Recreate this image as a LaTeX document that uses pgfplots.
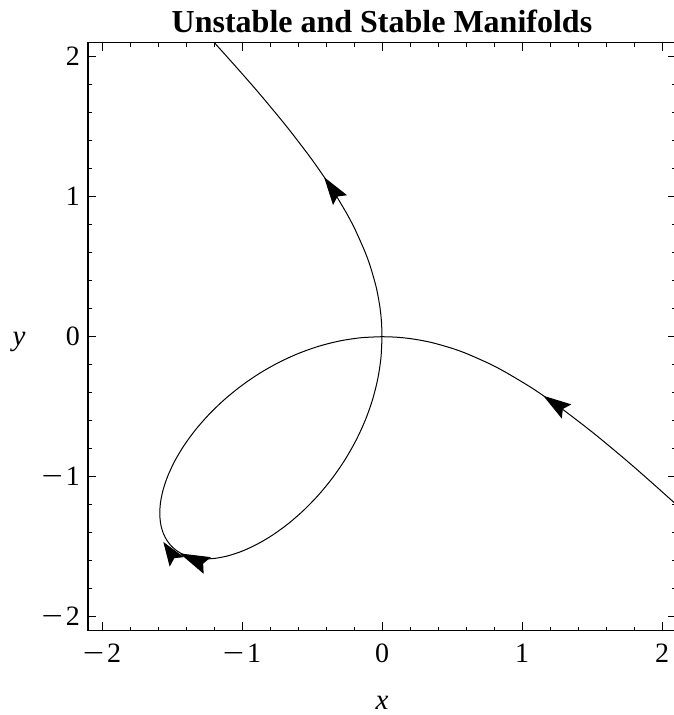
\documentclass[border=0pt]{standalone}
\usepackage{fontspec}
\setmainfont{Liberation Serif}
\usepackage{graphicx}
\usepackage{pgfplots}
\pgfplotsset{compat=1.18}
\usetikzlibrary{arrows.meta}

\newcommand{\mm}{\scalebox{1.35}[1]{−}\hspace{0.1em}}
\tikzset{
  flowhead/.style={-{Stealth[length=#1,width=8.5pt,inset=2.2pt]}},
  flowhead/.default=14pt,
}

\begin{document}
\begin{tikzpicture}
\begin{axis}[
  scale only axis,
  width=294pt, height=294pt,
  xmin=-2.1, xmax=2.1, ymin=-2.1, ymax=2.1,
  xtick={-2,-1,0,1,2}, ytick={-2,-1,0,1,2},
  xticklabels={\mm2,\mm1,0,1,2}, yticklabels={\mm2,\mm1,0,1,2},
  minor tick num=4,
  tick align=inside,
  major tick length=4.2pt, minor tick length=2.1pt,
  tick style={black, line width=0.5pt},
  axis line style={black, line width=0.6pt},
  ticklabel style={font=\fontsize{14}{17}\selectfont, inner sep=0pt},
  xticklabel style={anchor=north, yshift=-6.3pt},
  yticklabel style={anchor=east, xshift=-3.9pt},
  title={Unstable and Stable Manifolds},
  title style={font=\fontsize{16}{19}\selectfont\bfseries, at={(0.5,1)}, anchor=base, yshift=-0.7pt},
  xlabel={\textit{x}}, ylabel={\textit{y}},
  xlabel style={font=\fontsize{14.5}{17}\selectfont, at={(axis description cs:0.5,0)}, anchor=base, yshift=-39.2pt},
  ylabel style={font=\fontsize{14.5}{17}\selectfont, rotate=-90, at={(axis description cs:0,0.5)}, anchor=base, xshift=-34.5pt, yshift=-4.2pt},
  no markers,
  every axis plot/.append style={black, line width=0.5pt},
]

% unstable branch, leaving the origin upwards
\addplot[smooth] coordinates {
(0,0)(-0.00333,0.1)(-0.01334,0.20006)(-0.03003,0.3003)(-0.04697,0.37573)
(-0.08372,0.50233)(-0.12097,0.60484)(-0.19048,0.7619)(-0.25075,0.87761)
(-0.34615,1.03846)(-0.40091,1.12257)(-0.51282,1.28205)(-0.68408,1.50498)
(-0.85714,1.71429)(-0.97286,1.84844)(-1.11755,2.01159)(-1.2043,2.10753)(-1.30335,2.21569)
};

% stable branch, coming in from the right
\addplot[smooth] coordinates {
(2.21569,-1.30335)(2.10753,-1.2043)(2.01159,-1.11755)(1.84844,-0.97286)
(1.71429,-0.85714)(1.50498,-0.68408)(1.28205,-0.51282)(1.12257,-0.40091)
(1.03846,-0.34615)(0.87761,-0.25075)(0.7619,-0.19048)(0.60484,-0.12097)
(0.50233,-0.08372)(0.37573,-0.04697)(0.3003,-0.03003)(0.20006,-0.01334)(0.1,-0.00333)(0,0)
};

% homoclinic loop
\addplot[smooth] coordinates {
(0,0)(-0.0075,-0.14998)(-0.02997,-0.2997)(-0.06727,-0.44849)(-0.11905,-0.59524)
(-0.18462,-0.73846)(-0.2629,-0.87634)(-0.35239,-1.00683)(-0.45113,-1.12782)
(-0.55677,-1.23725)(-0.66667,-1.33333)(-0.77805,-1.41464)(-0.88816,-1.48026)
(-0.99441,-1.52986)(-1.09456,-1.56366)(-1.18681,-1.58242)(-1.26984,-1.5873)
(-1.34283,-1.5798)(-1.40544,-1.56159)(-1.4577,-1.53442)(-1.5,-1.5)
(-1.53442,-1.4577)(-1.56159,-1.40544)(-1.5798,-1.34283)(-1.5873,-1.26984)
(-1.58242,-1.18681)(-1.56366,-1.09456)(-1.52986,-0.99441)(-1.48026,-0.88816)
(-1.41464,-0.77805)(-1.33333,-0.66667)(-1.23725,-0.55677)(-1.12782,-0.45113)
(-1.00683,-0.35239)(-0.87634,-0.2629)(-0.73846,-0.18462)(-0.59524,-0.11905)
(-0.44849,-0.06727)(-0.2997,-0.02997)(-0.14998,-0.0075)(0,0)
};

% direction arrows (short segments ending at the arrow tip)
\addplot[flowhead] coordinates {(-0.357,1.058)(-0.414,1.14)};
\addplot[flowhead] coordinates {(1.235,-0.478)(1.152,-0.422)};
\addplot[-{Stealth[length=15pt,width=9pt,inset=2.2pt]}] coordinates {(-1.3534,-1.588)(-1.445,-1.548)};
\addplot[flowhead=12pt] coordinates {(-1.506,-1.549)(-1.562,-1.466)};

\coordinate (sw) at (rel axis cs:0,0);
\coordinate (ne) at (rel axis cs:1,1);
\end{axis}
\pgfresetboundingbox
\path ([shift={(-44pt,-42.15pt)}]sw) rectangle ([shift={(-1.5pt,21.35pt)}]ne);
\end{tikzpicture}
\end{document}
